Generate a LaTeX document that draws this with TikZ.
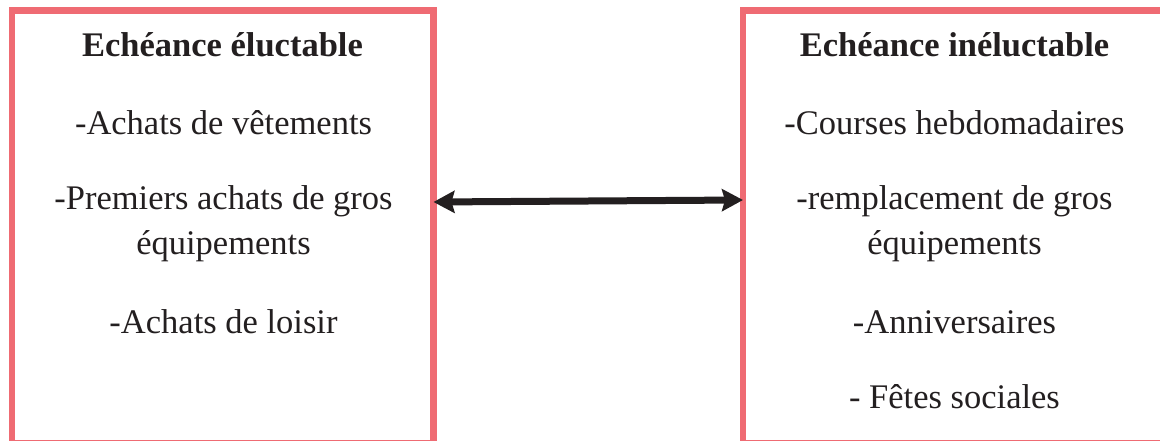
\documentclass[tikz,border=0pt]{standalone}
\usepackage{fontspec}
\setmainfont{Liberation Serif}
\newfontfamily\tnr{Liberation Serif}
\usetikzlibrary{arrows.meta}
\definecolor{boxpink}{HTML}{EF6B73}
\definecolor{arrowdark}{HTML}{231F20}
\tikzset{
  panel/.style={draw=boxpink, line width=6.5pt, rectangle, inner sep=0pt, outer sep=0pt},
  txt/.style={anchor=base, inner sep=0pt, font=\tnr\fontsize{34.5}{40}\selectfont, text=arrowdark},
  ttl/.style={txt, font=\tnr\fontsize{34.5}{40}\selectfont\bfseries},
  link/.style={draw=arrowdark, line width=7pt, {Stealth[length=21pt,width=22pt,inset=3pt]}-{Stealth[length=21pt,width=22pt,inset=3pt]}}
}
\begin{document}
\begin{tikzpicture}[x=1pt,y=-1pt]
\useasboundingbox (0,0) rectangle (1160,441);
\clip (0,0) rectangle (1160,441);
\fill[white] (0,0) rectangle (1160,441);
% boxes
\node[panel, minimum width=421.5pt, minimum height=432.5pt] (L) at (222.75,226.75) {};
\node[panel, minimum width=423pt, minimum height=432.5pt] (R) at (954.5,226.75) {};
% left texts
\node[ttl] (lt) at (222.5,57) {Echéance éluctable};
\node[txt] (l1) at (223.5,135) {-Achats de vêtements};
\node[txt] (l2a) at (223.5,209) {-Premiers achats de gros};
\node[txt] (l2b) at (223.5,254) {équipements};
\node[txt] (l3) at (223.5,333) {-Achats de loisir};
% right texts
\node[ttl] (rt) at (954.5,57) {Echéance inéluctable};
\node[txt] (r1) at (954.5,135) {-Courses hebdomadaires};
\node[txt] (r2a) at (954.5,209) {-remplacement de gros};
\node[txt] (r2b) at (954.5,254) {équipements};
\node[txt] (r3) at (954.5,333) {-Anniversaires};
\node[txt] (r4) at (954.5,408) {- Fêtes sociales};
% arrow
\coordinate (la) at ([yshift=24.75pt]L.east);
\coordinate (ra) at ([yshift=26.75pt]R.west);
\draw[link] (la) -- (ra);
\end{tikzpicture}
\end{document}
